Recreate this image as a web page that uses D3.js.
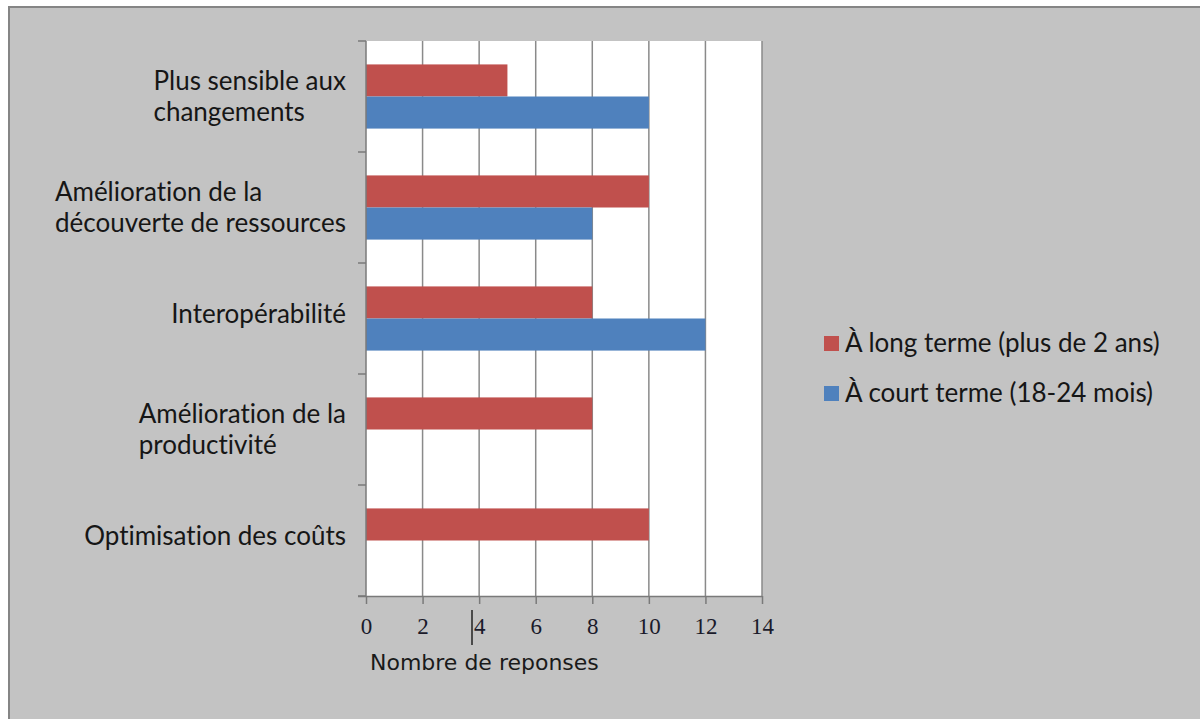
<!DOCTYPE html>
<html><head><meta charset="utf-8">
<script src="https://cdn.jsdelivr.net/npm/d3@7"></script>
<style>body{margin:0;background:#fff;}svg{display:block;}text{font-variant-ligatures:none;font-feature-settings:"liga" 0;}</style>
</head><body>
<svg id="c" width="1200" height="719"></svg>
<script>
const categories = [
  ["Plus sensible aux", "changements"],
  ["Amélioration de la", "découverte de ressources"],
  ["Interopérabilité"],
  ["Amélioration de la", "productivité"],
  ["Optimisation des coûts"]
];
const longTerm = [5, 10, 8, 8, 10];
const shortTerm = [10, 8, 12, 0, 0];
const xTicks = [0, 2, 4, 6, 8, 10, 12, 14];
const seriesNames = ["À long terme (plus de 2 ans)", "À court terme (18-24 mois)"];
const colors = ["#c0504d", "#4f81bd"];
const axisTitle = "Nombre de reponses";

const svg = d3.select("#c");
svg.append("rect").attr("x", 9).attr("y", 7).attr("width", 1200).attr("height", 720)
  .attr("fill", "#c3c3c3").attr("stroke", "#858585").attr("stroke-width", 2);

const L = 366, R = 762, T = 41, B = 596;
const x = d3.scaleLinear().domain([0, 14]).range([L, R]);
const keys = categories.map((d, i) => i);
const y = d3.scaleBand().domain(keys).range([T, B]);
const inner = d3.scaleBand().domain([0, 1]).range([0, y.bandwidth()]).paddingInner(0).paddingOuter(0.73);

svg.append("rect").attr("x", L).attr("y", T).attr("width", R - L).attr("height", B - T).attr("fill", "#fff");

svg.append("g").selectAll("line").data(xTicks.slice(1)).join("line")
  .attr("x1", d => x(d)).attr("x2", d => x(d)).attr("y1", T).attr("y2", B)
  .attr("stroke", "#8a8a8a").attr("stroke-width", 1.5);

const series = [longTerm, shortTerm];
series.forEach((vals, s) => {
  svg.append("g").selectAll("rect").data(vals).join("rect")
    .attr("x", x(0)).attr("y", (d, i) => y(i) + inner(s))
    .attr("width", d => x(d) - x(0)).attr("height", inner.bandwidth())
    .attr("fill", colors[s]);
});

const xa = svg.append("g").attr("transform", `translate(0,${B})`)
  .call(d3.axisBottom(x).tickValues(xTicks).tickSize(8).tickPadding(14).tickSizeOuter(0));
xa.select(".domain").attr("stroke", "#7a7a7a").attr("stroke-width", 1.5).attr("d", `M${L-8},0.5H${R}`);
xa.selectAll(".tick line").attr("stroke", "#7a7a7a").attr("stroke-width", 1.5);
xa.selectAll("text").attr("font-family", "'Liberation Serif', serif").attr("font-size", 23).attr("fill", "#1a1a2a");

svg.append("line").attr("x1", L).attr("x2", L).attr("y1", T).attr("y2", B).attr("stroke", "#7a7a7a").attr("stroke-width", 1.5);
const bounds = keys.map(k => y(k)).concat([B]);
svg.append("g").selectAll("line").data(bounds).join("line")
  .attr("x1", L - 8).attr("x2", L).attr("y1", d => d).attr("y2", d => d)
  .attr("stroke", "#7a7a7a").attr("stroke-width", 1.5);

const fontF = "Lato, 'Open Sans', sans-serif";
const fs = 26;
const labelRight = 346;
categories.forEach((lines, i) => {
  const cy = y(i) + y.bandwidth() / 2;
  const g = svg.append("g");
  const n = lines.length;
  const ts = lines.map((ln, j) => g.append("text").text(ln)
    .attr("y", n === 1 ? cy + 4 : cy - 7 + j * 31)
    .attr("font-family", fontF).attr("font-size", fs).attr("fill", "#161616"));
  const w = d3.max(ts, t => t.node().getComputedTextLength());
  ts.forEach(t => t.attr("x", labelRight - w));
});

svg.append("line").attr("x1", 472).attr("x2", 472).attr("y1", 610).attr("y2", 645)
  .attr("stroke", "#222").attr("stroke-width", 1.5);

svg.append("text").text(axisTitle).attr("x", 370).attr("y", 670)
  .attr("font-family", "'DejaVu Sans', sans-serif").attr("font-size", 22).attr("fill", "#1a1a1a");

seriesNames.forEach((nm, i) => {
  const ly = 343 + i * 50;
  svg.append("rect").attr("x", 824).attr("y", ly - 7).attr("width", 15).attr("height", 15).attr("fill", colors[i]);
  svg.append("text").text(nm).attr("x", 845).attr("y", ly + 9)
    .attr("font-family", fontF).attr("font-size", fs).attr("fill", "#161616");
});
</script>
</body></html>
